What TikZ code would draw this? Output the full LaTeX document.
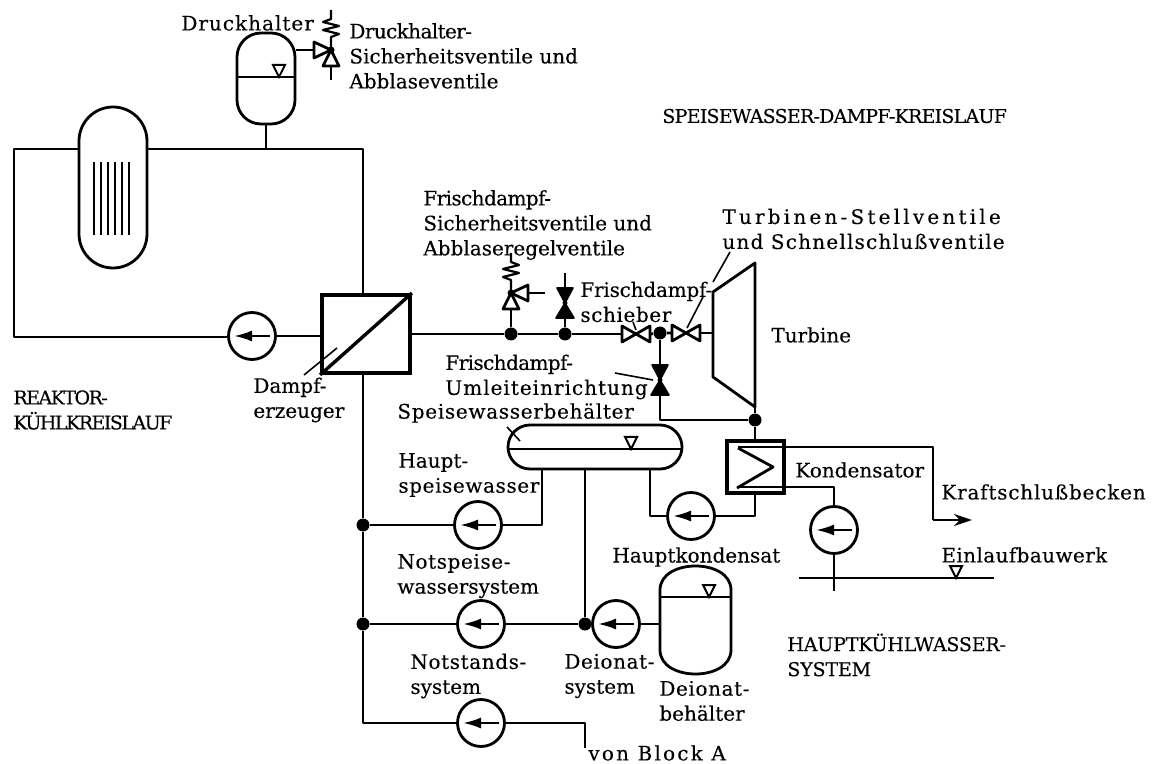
\documentclass[tikz,border=0pt]{standalone}
\usepackage{fontspec}
\setmainfont{DejaVu Serif}[FakeBold=0.2]
\usetikzlibrary{arrows.meta}
\newcommand{\spaced}[2]{{\addfontfeature{LetterSpace=#1}#2}}
\tikzset{
  pipe/.style={line width=1.4pt,line join=round},
  leader/.style={line width=0.8pt},
  lbl/.style={font=\fontsize{10}{12.5}\selectfont,align=left,anchor=west,inner sep=0pt},
  caps/.style={lbl,font=\fontsize{9.5}{12.5}\selectfont},
  dotnode/.style={circle,fill=black,inner sep=0pt,minimum size=6.5pt},
  pump/.style={circle,draw,line width=1.4pt,inner sep=0pt,minimum size=23.5pt,
    path picture={\draw[line width=1.2pt,-{Latex[length=9pt,width=5.5pt]},
      shift={(path picture bounding box.center)},rotate=#1] (9pt,0pt)--(-9pt,0pt);}},
  vessel/.style={rectangle,draw,line width=1.4pt,inner sep=0pt},
  heavybox/.style={vessel,line width=1.9pt},
  gatevalve/.pic={
    \draw[pipe] (-14,-8)--(14,8)--(14,-8)--(-14,8)--cycle;
    \coordinate (-w) at (-14,0);
    \coordinate (-e) at (14,0);
  },
  shutvalve/.pic={
    \filldraw[line width=0.8pt,line join=round] (-8,-15)--(8,-15)--(0,0)--(9,15)--(-9,15)--(0,0)--cycle;
    \fill (0,0) circle (2.5);
    \coordinate (-n) at (0,-16);
    \coordinate (-s) at (0,16);
  },
  reliefvalve/.pic={
    \draw[pipe,line width=1.1pt] (0,-40)--(0,-31)--(-8,-28)--(8,-24)--(-8,-20)--(8,-16)--(0,-13)--(0,0);
    \draw[pipe] (0,0)--(-17,-8)--(-17,8)--cycle;
    \draw[pipe] (0,0)--(-8,16)--(8,16)--cycle;
    \fill (0,0) circle (3.5);
    \coordinate (-side) at (-17,0);
    \coordinate (-down) at (0,16);
  },
}
\newcommand{\levelmark}[2]{\draw[line width=1pt] (#1-6,#2-12)--(#1+6,#2-12)--(#1,#2)--cycle;}
\begin{document}
\begin{tikzpicture}[x=0.5pt,y=-0.5pt]
  \useasboundingbox (0,0) rectangle (1162,764);
  % vessels
  \node[vessel,rounded corners=17pt,minimum width=34pt,minimum height=80.5pt] (reactor) at (113,187.5) {};
  \node[vessel,rounded corners=12pt,minimum width=29pt,minimum height=45.5pt] (pressurizer) at (266,78.5) {};
  \node[heavybox,minimum width=44pt,minimum height=39pt] (steamgen) at (366,334) {};
  \node[vessel,rounded corners=11pt,minimum width=87pt,minimum height=22pt] (drum) at (595,447) {};
  \node[heavybox,minimum width=28.5pt,minimum height=26pt] (condenser) at (755.5,467) {};
  \node[minimum width=35.5pt,minimum height=53pt,inner sep=0pt] (tank) at (695.5,620) {};
  \draw[pipe] (660,590) .. controls (660,558) and (731,558) .. (731,590)--(731,650)
    .. controls (731,682) and (660,682) .. (660,650)--cycle;
  \foreach \rodx in {94,101,108,115,122,129} \draw[line width=1.3pt] (\rodx,162)--(\rodx,235);
  \draw[pipe,line width=1.7pt] (steamgen.north east)--(steamgen.south west);
  \draw[pipe] (738,448)--(773,467)--(737,488);
  % level marks
  \draw[pipe,line width=1.1pt] (pressurizer.west |- 0,77)--(pressurizer.east |- 0,77);
  \levelmark{279}{77}
  \draw[pipe,line width=1.1pt] (drum.west |- 0,449)--(drum.east |- 0,449);
  \levelmark{631}{449}
  \draw[pipe,line width=1.1pt] (660,597)--(731,597);
  \levelmark{709}{597}
  \levelmark{956}{578}
  % pumps and junctions
  \node[pump=180] (pumpRC) at (252,336) {};
  \node[pump=180] (pumpFW) at (478,525) {};
  \node[pump=180] (pumpEF) at (481,624) {};
  \node[pump=180] (pumpEM) at (481,723) {};
  \node[pump=180] (pumpDI) at (616,624) {};
  \node[pump=180] (pumpCO) at (691,516) {};
  \node[pump=90] (pumpCW) at (834,530) {};
  \node[dotnode] (dotA) at (511,334) {};
  \node[dotnode] (dotB) at (565,334) {};
  \node[dotnode] (dotC) at (660,333) {};
  \node[dotnode] (dotD) at (755,420) {};
  \node[dotnode] (dotE) at (363,525) {};
  \node[dotnode] (dotF) at (363,624) {};
  \node[dotnode] (dotG) at (585,624) {};
  % valves
  \pic (reliefP) at (331,50) {reliefvalve};
  \pic[xscale=-1] (reliefS) at (511,293) {reliefvalve};
  \pic (shutA) at (565,303) {shutvalve};
  \pic (shutB) at (660,380) {shutvalve};
  \pic (gateA) at (636,334) {gatevalve};
  \pic (gateB) at (686,333) {gatevalve};
  % turbine
  \coordinate (turbIn) at (713,333);
  \coordinate (turbOut) at (755,407);
  \draw[pipe] (713,292)--(755,263)--(turbOut)--(713,377)--cycle;
  % primary loop
  \coordinate (loopA) at (14,149);
  \coordinate (loopB) at (14,337);
  \coordinate (loopC) at (363,149);
  \coordinate (riser) at (266,149);
  \draw[pipe] (reactor.west |- loopA)--(loopA)--(loopB)--(pumpRC.west |- loopB);
  \draw[pipe] (pumpRC.east)--(steamgen.west |- pumpRC);
  \draw[pipe] (reactor.east |- loopC)--(loopC)--(steamgen.north -| loopC);
  \draw[pipe] (pressurizer.south)--(riser);
  \coordinate (reliefEnd) at (331,80);
  \draw[pipe] (pressurizer.east |- reliefP-side)--(reliefP-side);
  \draw[pipe] (reliefP-down)--(reliefEnd);
  % steam line
  \draw[pipe] (steamgen.east |- dotA)--(dotA)--(dotB)--(gateA-w);
  \draw[pipe] (gateA-e)--(dotC)--(gateB-w);
  \draw[pipe] (gateB-e)--(turbIn);
  \draw[pipe] (reliefS-down)--(dotA);
  \coordinate (reliefOut) at (545,293);
  \draw[pipe] (reliefS-side)--(reliefOut);
  \coordinate (shutTop) at (565,273);
  \draw[pipe] (shutTop)--(shutA-n);
  \draw[pipe] (shutA-s)--(dotB);
  \draw[pipe] (dotC)--(shutB-n);
  \coordinate (bypass) at (660,420);
  \draw[pipe] (shutB-s)--(bypass)--(dotD);
  \draw[pipe] (turbOut)--(dotD)--(condenser.north -| dotD);
  % feedwater
  \coordinate (mainB) at (363,723);
  \coordinate (fwUp) at (542,525);
  \coordinate (emUp) at (585,723);
  \coordinate (emEnd) at (585,748);
  \coordinate (coA) at (650,516);
  \coordinate (coB) at (755,516);
  \draw[pipe] (steamgen.south -| dotE)--(dotE)--(dotF)--(mainB)--(pumpEM.west |- mainB);
  \draw[pipe] (dotE)--(pumpFW.west);
  \draw[pipe] (pumpFW.east)--(fwUp)--(drum.south -| fwUp);
  \draw[pipe] (dotF)--(pumpEF.west);
  \draw[pipe] (pumpEF.east)--(dotG)--(drum.south -| dotG);
  \draw[pipe] (dotG)--(pumpDI.west);
  \draw[pipe] (pumpDI.east)--(tank.west |- pumpDI);
  \draw[pipe] (pumpEM.east)--(emUp)--(emEnd);
  \draw[pipe] (drum.south -| coA)--(coA)--(pumpCO.west);
  \draw[pipe] (pumpCO.east)--(coB)--(condenser.south -| coB);
  % cooling water
  \coordinate (cwOutA) at (933,447);
  \coordinate (cwOutB) at (933,520);
  \coordinate (cwOutC) at (972,520);
  \coordinate (cwInA) at (737,487);
  \coordinate (cwInB) at (834,487);
  \coordinate (basinA) at (799,578);
  \coordinate (basinB) at (994,578);
  \coordinate (suction) at (834,591);
  \draw[pipe] (738,447)--(cwOutA)--(cwOutB);
  \draw[pipe,-{Stealth[length=9pt,width=6pt]}] (cwOutB)--(cwOutC);
  \draw[pipe] (cwInA)--(cwInB)--(pumpCW.north);
  \draw[pipe] (pumpCW.south)--(suction);
  \draw[pipe,line width=1.1pt] (basinA)--(basinB);
  % leader lines
  \draw[leader] (337,348)--(304,375);
  \draw[leader] (730,252)--(713,282);
  \draw[leader] (703,297)--(687,328);
  \draw[leader] (633,322)--(636,330);
  \draw[leader] (615,373)--(653,380);
  \draw[leader] (507,427)--(520,441);
  % labels
  \node[lbl] (lblP) at (181,23) {\spaced{5}{Druckhalter}};
  \node[lbl] (lblPV) at (349,56) {\spaced{-3}{Druckhalter-}\\Sicherheitsventile und\\Abblaseventile};
  \node[caps] (lblSW) at (662,116) {\spaced{-4}{SPEISEWASSER-DAMPF-KREISLAUF}};
  \node[caps] (lblRK) at (13,410) {\spaced{-8}{REAKTOR-}\\\spaced{-8}{KÜHLKREISLAUF}};
  \node[lbl] (lblFS) at (423,225) {\spaced{-3}{Frischdampf-}\\Sicherheitsventile und\\Abblaseregelventile};
  \node[lbl] (lblTS) at (722,229) {\spaced{16}{Turbinen-Stellventile}\\\spaced{6}{und Schnellschlußventile}};
  \node[lbl] (lblFD) at (580,302) {\spaced{-1}{Frischdampf-}\\\spaced{3}{schieber}};
  \node[lbl] (lblT) at (771,335) {Turbine};
  \node[lbl] (lblFU) at (445,377) {\spaced{-3}{Frischdampf-}\\\spaced{5}{Umleiteinrichtung}};
  \node[lbl] (lblSB) at (397,413) {\spaced{3.5}{Speisewasserbehälter}};
  \node[lbl] (lblDE) at (253,400) {Dampf-\\erzeuger};
  \node[lbl] (lblHS) at (398,475) {Haupt-\\\spaced{3}{speisewasser}};
  \node[lbl] (lblNW) at (397,576) {\spaced{3}{Notspeise-}\\wassersystem};
  \node[lbl] (lblNS) at (410,676) {\spaced{3}{Notstands-}\\system};
  \node[lbl] (lblDS) at (564,676) {\spaced{3}{Deionat-}\\system};
  \node[lbl] (lblDB) at (659,701) {\spaced{3}{Deionat-}\\behälter};
  \node[lbl] (lblHK) at (612,557) {Hauptkondensat};
  \node[lbl] (lblVB) at (588,753) {\spaced{11}{von Block A}};
  \node[lbl] (lblKO) at (795,470) {Kondensator};
  \node[lbl] (lblKB) at (941,492) {\spaced{4}{Kraftschlußbecken}};
  \node[lbl] (lblEB) at (941,555) {\spaced{2}{Einlaufbauwerk}};
  \node[caps] (lblHW) at (787,655) {\spaced{-1}{HAUPTKÜHLWASSER-}\\\spaced{-1}{SYSTEM}};
\end{tikzpicture}
\end{document}
